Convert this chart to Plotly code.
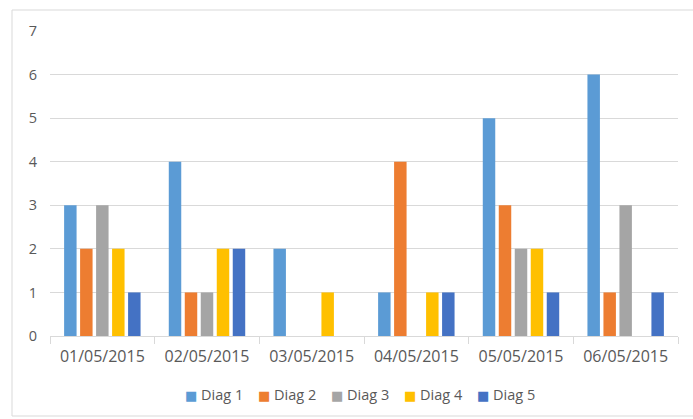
import plotly.graph_objects as go

dates = ["01/05/2015", "02/05/2015", "03/05/2015", "04/05/2015", "05/05/2015", "06/05/2015"]
diag_1 = [3, 4, 2, 1, 5, 6]
diag_2 = [2, 1, 0, 4, 3, 1]
diag_3 = [3, 1, 0, 0, 2, 3]
diag_4 = [2, 2, 1, 1, 2, 0]
diag_5 = [1, 2, 0, 1, 1, 1]

series = [
    ("Diag 1", diag_1, "#5B9BD5"),
    ("Diag 2", diag_2, "#ED7D31"),
    ("Diag 3", diag_3, "#A5A5A5"),
    ("Diag 4", diag_4, "#FFC000"),
    ("Diag 5", diag_5, "#4472C4"),
]

font_family = "Open Sans, Liberation Sans, sans-serif"
text_color = "#595959"
W, H = 693, 419
M_L, M_R, M_T, M_B = 50, 15, 31, 83
plot_w, plot_h = W - M_L - M_R, H - M_T - M_B


def px_to_paper_x(px):
    return (px - M_L) / plot_w


def px_to_paper_y(py):
    return (H - M_B - py) / plot_h


fig = go.Figure()
for name, vals, color in series:
    fig.add_trace(go.Bar(x=dates, y=vals, name=name, showlegend=False,
                         marker=dict(color=color, line=dict(width=0))))

# Legend row drawn as text: coloured square followed by the series name
legend_items = []
legend_x0, legend_step = 183, 73
for i, (name, _, color) in enumerate(series):
    legend_items.append(dict(
        xref="paper", yref="paper",
        x=px_to_paper_x(legend_x0 + i * legend_step), y=px_to_paper_y(394),
        xanchor="left", yanchor="middle",
        showarrow=False,
        text=f"<span style='color:{color};font-family:DejaVu Sans;font-size:13px'>■</span> {name}",
        font=dict(family=font_family, size=14.5, color=text_color),
    ))

fig.update_layout(
    width=W,
    height=H,
    margin=dict(l=M_L, r=M_R, t=M_T, b=M_B),
    paper_bgcolor="white",
    plot_bgcolor="white",
    barmode="group",
    bargap=0.236,
    bargroupgap=0.22,
    showlegend=False,
    font=dict(family=font_family, size=14, color=text_color),
    xaxis=dict(
        showgrid=False,
        showline=True,
        linecolor="#D9D9D9",
        linewidth=1,
        ticks="outside",
        tickson="boundaries",
        ticklen=7,
        tickcolor="#D9D9D9",
        ticklabelstandoff=6,
        tickfont=dict(size=16, color=text_color),
    ),
    yaxis=dict(
        range=[0, 7],
        dtick=1,
        showgrid=True,
        gridcolor="#D9D9D9",
        gridwidth=1,
        zeroline=False,
        showline=False,
        ticks="",
        ticklabelstandoff=12,
        tickfont=dict(size=14.5, color=text_color),
    ),
    annotations=legend_items,
    shapes=[
        dict(
            type="rect",
            xref="paper",
            yref="paper",
            x0=px_to_paper_x(12),
            x1=px_to_paper_x(725),
            y0=px_to_paper_y(416),
            y1=px_to_paper_y(10),
            line=dict(color="#D9D9D9", width=1),
            fillcolor="rgba(0,0,0,0)",
            layer="below",
        )
    ],
)

fig.write_html("out.html")
